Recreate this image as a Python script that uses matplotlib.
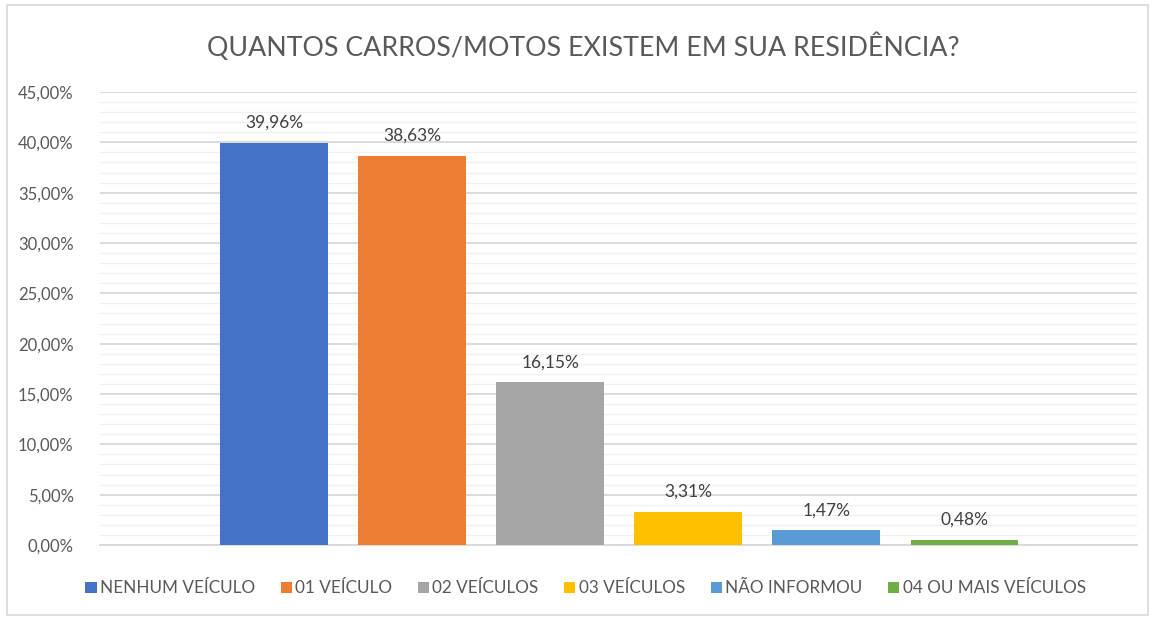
import matplotlib
matplotlib.use("Agg")
import matplotlib.pyplot as plt
from matplotlib.ticker import MultipleLocator, FuncFormatter
from matplotlib.patches import Rectangle

categories = ["NENHUM VEÍCULO", "01 VEÍCULO", "02 VEÍCULOS", "03 VEÍCULOS",
              "NÃO INFORMOU", "04 OU MAIS VEÍCULOS"]
values = [39.96, 38.63, 16.15, 3.31, 1.47, 0.48]
colors = ["#4472C4", "#ED7D31", "#A5A5A5", "#FFC000", "#5B9BD5", "#70AD47"]
title = "QUANTOS CARROS/MOTOS EXISTEM EM SUA RESIDÊNCIA?"

plt.rcParams['font.family'] = ['Lato', 'DejaVu Sans']

fig = plt.figure(figsize=(11.55, 6.18), dpi=100)
fig.patches.append(Rectangle((0.006, 0.005), 0.988, 0.987, transform=fig.transFigure,
                             fill=False, edgecolor="#D9D9D9", linewidth=1.2))
ax = fig.add_axes([0.0866, 0.1181, 0.8978, 0.733])

for i, (c, v, col) in enumerate(zip(categories, values, colors)):
    ax.bar(i, v, width=0.78, color=col, label=c, zorder=3)
    ax.text(i, v + 1.2, f"{v:.2f}%".replace(".", ","), ha="center", va="bottom",
            fontsize=12.5, color="#404040")

ax.set_xlim(-1.26, 6.25)
ax.set_ylim(0, 45)
ax.yaxis.set_major_locator(MultipleLocator(5))
ax.yaxis.set_minor_locator(MultipleLocator(1))
ax.yaxis.set_major_formatter(FuncFormatter(lambda v, p: f"{v:.2f}%".replace(".", ",")))
ax.grid(axis="y", which="major", color="#D9D9D9", linewidth=1.3, zorder=0)
ax.grid(axis="y", which="minor", color="#F0F0F0", linewidth=1.0, zorder=0)
ax.set_axisbelow(True)
ax.tick_params(axis="y", which="both", length=0, labelsize=12, labelcolor="#595959", pad=19)
ax.tick_params(axis="x", length=0, labelbottom=False)
for s in ["top", "right", "left"]:
    ax.spines[s].set_visible(False)
ax.spines["bottom"].set_color("#D9D9D9")
ax.spines["bottom"].set_linewidth(1.3)

fig.text(0.505, 0.925, title, ha="center", va="center", fontsize=19.3, color="#595959")

fig.legend(loc="center", bbox_to_anchor=(0.507, 0.048), ncol=6, frameon=False,
           fontsize=12.3, labelcolor="#595959", handlelength=0.65, handleheight=0.65,
           handletextpad=0.2, columnspacing=1.5)

fig.savefig("out.png", dpi=100, facecolor="white")
